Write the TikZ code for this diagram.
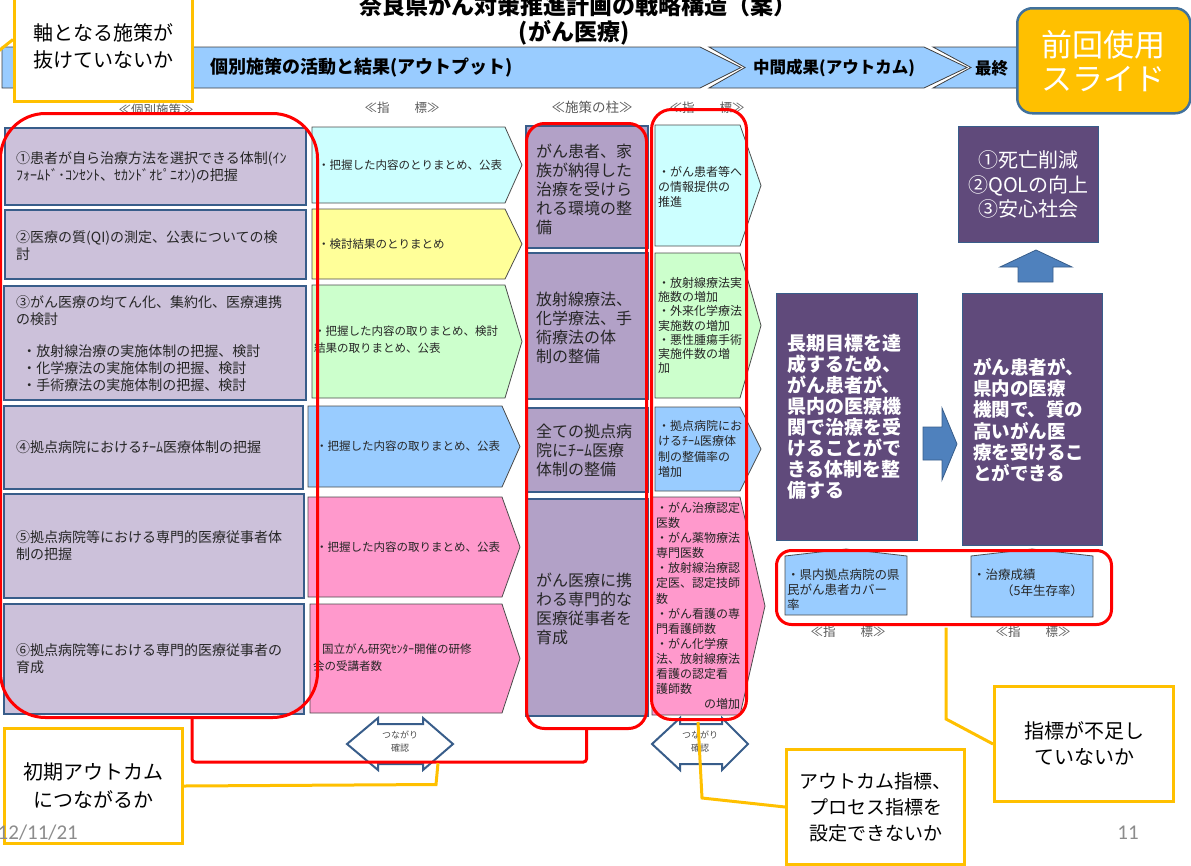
\documentclass[tikz,border=0pt]{standalone}
\usepackage{fontspec}
\setmainfont{Noto Sans CJK JP}
\newfontfamily\calfont{Carlito}
\usetikzlibrary{calc}
\definecolor{lav}{HTML}{CCC1DA}
\definecolor{bord}{HTML}{385D8A}
\definecolor{pil}{HTML}{B2A1C7}
\definecolor{icyan}{HTML}{CCFFFF}
\definecolor{iyel}{HTML}{FFFF99}
\definecolor{igrn}{HTML}{CCFFCC}
\definecolor{iblu}{HTML}{99CCFF}
\definecolor{ipnk}{HTML}{FF99CC}
\definecolor{dpur}{HTML}{604A7B}
\definecolor{abl}{HTML}{4F81BD}
\definecolor{orng}{HTML}{FFC000}
\definecolor{obord}{HTML}{41719C}
\definecolor{gtxt}{HTML}{595959}
\definecolor{barc}{HTML}{99CCFF}
\definecolor{redc}{HTML}{FF0000}
\newcommand\fs[2]{\fontsize{#1}{#2}\selectfont}
\newcommand\pent[7]{%
  \draw[pentst, fill=#2] (#3,#4) -- (#5,#4) -- (#7,{(#4+#6)/2}) -- (#5,#6) -- (#3,#6) -- cycle;
  \coordinate (#1) at (#3,{(#4+#6)/2});}
\tikzset{
  barst/.style={fill=barc, draw=black!75, line width=0.8pt},
  bartxt/.style={font=\bfseries\fs{18}{20}, inner sep=0pt, anchor=west},
  glab/.style={font=\fs{12.5}{14}, text=gtxt, inner sep=0pt},
  lbox/.style={draw=bord, line width=2.2pt, fill=lav, anchor=north west, inner sep=0pt},
  ltxt/.style={anchor=west, align=left, inner sep=0pt, font=\fs{14}{17}, text=black!85},
  pentst/.style={draw=black!70, line width=0.8pt},
  itxt/.style={anchor=west, align=left, inner sep=0pt, font=\fs{11.5}{17}, text=black!85},
  pbox/.style={draw=bord, line width=1.8pt, fill=pil, anchor=north west, inner sep=0pt},
  ptxt/.style={anchor=west, align=left, inner sep=0pt, font=\fs{16}{19}, text=black!85},
  jtxt/.style={anchor=west, align=left, inner sep=0pt, font=\fs{12}{15}, text=black!85},
  dbox/.style={draw=bord, line width=1pt, fill=dpur, anchor=north west, inner sep=0pt},
  dtxt/.style={anchor=west, align=left, inner sep=0pt, text=white, font=\bfseries\fs{19}{21}},
  barrow/.style={fill=abl, draw=bord, line width=0.8pt},
  darrow/.style={fill=white, draw=bord, line width=2pt, line join=miter},
  dtext/.style={font=\fs{9}{13}, text=black!70, align=center, inner sep=0pt},
  redr/.style={draw=redc, line width=3pt, anchor=north west, inner sep=0pt},
  redln/.style={draw=redc, line width=3pt, rounded corners=3pt},
  yln/.style={draw=orng, line width=3pt},
  callout/.style={draw=orng, line width=3pt, fill=white, align=center, inner sep=0pt, font=\fs{20}{27}},
}
\begin{document}
\begin{tikzpicture}[x=1pt,y=-1pt]
\useasboundingbox (0,0) rectangle (1191,865);
\clip (0,0) rectangle (1191,865);

% header bar
\draw[barst] (2,47) -- (700,47) -- (741,67.5) -- (700,88) -- (2,88) -- cycle;
\draw[barst] (709,47) -- (924,47) -- (967,67.5) -- (924,88) -- (709,88) -- (745,67.5) -- cycle;
\draw[barst] (933,47) -- (1196,47) -- (1196,88) -- (933,88) -- (971,67.5) -- cycle;
\node[bartxt] (bar1) at (210,68) {個別施策の活動と結果(アウトプット)};
\node[bartxt, font=\bfseries\fs{16.5}{20}] (bar2) at (753,68) {中間成果(アウトカム)};
\node[bartxt, font=\bfseries\fs{16.5}{20}] (bar3) at (975,68) {最終};

% title
\node[font=\bfseries\fs{23}{26}, inner sep=0pt] (title1) at (578,6) {奈良県がん対策推進計画の戦略構造（案）};
\node[font=\bfseries\fs{23}{26}, inner sep=0pt] (title2) at (574,33) {(がん医療)};

% column labels
\node[glab] (h1) at (156,110) {≪個別施策≫};
\node[glab] (h2) at (402,108) {≪指　　標≫};
\node[glab, font=\fs{13.5}{15}] (h3) at (592,107) {≪施策の柱≫};
\node[glab] (h4) at (707,108) {≪指　　標≫};
\node[glab] (h5) at (848,632) {≪指　　標≫};
\node[glab] (h6) at (1033,632) {≪指　　標≫};

% left column: individual measures
\node[lbox, minimum width=301pt, minimum height=77pt] (p1) at (4,127) {};
\node[lbox, minimum width=301pt, minimum height=69pt] (p2) at (4,209) {};
\node[lbox, minimum width=302pt, minimum height=114pt] (p3) at (3,285) {};
\node[lbox, minimum width=299pt, minimum height=83pt] (p4) at (3,405) {};
\node[lbox, minimum width=300pt, minimum height=104pt] (p5) at (3,493) {};
\node[lbox, minimum width=300pt, minimum height=110pt] (p6) at (3,603) {};
\node[ltxt] (p1t) at ($(p1.west)+(12,1)$) {①患者が自ら治療方法を選択できる体制(ｲﾝ\\ﾌｫｰﾑﾄﾞ･ｺﾝｾﾝﾄ、ｾｶﾝﾄﾞｵﾋﾟﾆｵﾝ)の把握};
\node[ltxt] (p2t) at ($(p2.west)+(12,1)$) {②医療の質(QI)の測定、公表についての検\\討};
\node[ltxt] (p3t) at ($(p3.west)+(13,1)$) {③がん医療の均てん化、集約化、医療連携\\の検討\\[15pt]\ \ ・放射線治療の実施体制の把握、検討\\\ \ ・化学療法の実施体制の把握、検討\\\ \ ・手術療法の実施体制の把握、検討};
\node[ltxt] (p4t) at ($(p4.west)+(13,0)$) {④拠点病院におけるﾁｰﾑ医療体制の把握};
\node[ltxt] (p5t) at ($(p5.west)+(13,0)$) {⑤拠点病院等における専門的医療従事者体\\制の把握};
\node[ltxt] (p6t) at ($(p6.west)+(13,0)$) {⑥拠点病院等における専門的医療従事者の\\育成};

% indicator column 1
\pent{i1}{icyan}{312}{127}{505}{203}{522}
\pent{i2}{iyel}{312}{209}{505}{279}{522}
\pent{i3}{igrn}{312}{285}{505}{398}{522}
\pent{i4}{iblu}{308}{406}{502}{487}{520}
\pent{i5}{ipnk}{308}{497}{502}{597}{520}
\pent{i6}{ipnk}{310}{604}{502}{713}{520}
\node[itxt] (i1t) at ($(i1)+(6,0)$) {・把握した内容のとりまとめ、公表};
\node[itxt] (i2t) at ($(i2)+(6,0)$) {・検討結果のとりまとめ};
\node[itxt] (i3t) at ($(i3)+(2,-2)$) {・把握した内容の取りまとめ、検討\\結果の取りまとめ、公表};
\node[itxt] (i4t) at ($(i4)+(8,0)$) {・把握した内容の取りまとめ、公表};
\node[itxt] (i5t) at ($(i5)+(8,0)$) {・把握した内容の取りまとめ、公表};
\node[itxt] (i6t) at ($(i6)+(3,-1)$) {\hspace*{9pt}国立がん研究ｾﾝﾀｰ開催の研修\\会の受講者数};

% pillar column
\node[pbox, minimum width=122pt, minimum height=122pt] (s1) at (525,125) {};
\node[pbox, minimum width=122pt, minimum height=146pt] (s2) at (525,252) {};
\node[pbox, minimum width=122pt, minimum height=84pt] (s3) at (525,407) {};
\node[pbox, minimum width=122pt, minimum height=217pt] (s4) at (525,498) {};
\node[ptxt] (s1t) at (536,189) {がん患者、家\\族が納得した\\治療を受けら\\れる環境の整\\備};
\node[ptxt] (s2t) at (536,328) {放射線療法、\\化学療法、手\\術療法の体\\制の整備};
\node[ptxt] (s3t) at (536,450) {全ての拠点病\\院にﾁｰﾑ医療\\体制の整備};
\node[ptxt] (s4t) at (536,609) {がん医療に携\\わる専門的な\\医療従事者を\\育成};

% indicator column 2
\pent{j1}{icyan}{655}{125}{740}{246}{761}
\pent{j2}{igrn}{655}{253}{740}{398}{761}
\pent{j3}{iblu}{655}{407}{740}{491}{761}
\pent{j4}{ipnk}{652}{497}{740}{715}{765}
\node[jtxt] (j1t) at ($(j1)+(3,1)$) {・がん患者等へ\\の情報提供の\\推進};
\node[jtxt, font=\fs{12}{14.3}] (j2t) at ($(j2)+(3,0)$) {・放射線療法実\\施数の増加\\・外来化学療法\\実施数の増加\\・悪性腫瘍手術\\実施件数の増\\加};
\node[jtxt, font=\fs{12}{15.5}] (j3t) at ($(j3)+(3,0)$) {・拠点病院にお\\けるﾁｰﾑ医療体\\制の整備率の\\増加};
\node[jtxt, font=\fs{12}{15.1}, text width=84pt] (j4t) at ($(j4)+(4,0)$) {・がん治療認定\\医数\\・がん薬物療法\\専門医数\\・放射線治療認\\定医、認定技師\\数\\・がん看護の専\\門看護師数\\・がん化学療\\法、放射線療法\\看護の認定看\\護師数\\\mbox{}\hfill の増加};

% outcome boxes
\node[dbox, minimum width=140pt, minimum height=116pt] (d1) at (958,126) {};
\node[dbox, minimum width=141pt, minimum height=247pt] (d2) at (776,293) {};
\node[dbox, minimum width=140pt, minimum height=252pt] (d3) at (962,293) {};
\node[text=white, align=center, inner sep=0pt, font=\fs{20}{24.5}] (d1t) at (d1.center) {①死亡削減\\②QOLの向上\\③安心社会};
\node[dtxt] (d2t) at (787,417) {長期目標を達\\成するため、\\がん患者が、\\県内の医療機\\関で治療を受\\けることがで\\きる体制を整\\備する};
\node[dtxt, font=\bfseries\fs{18.5}{21.3}] (d3t) at (973,420) {がん患者が、\\県内の医療\\機関で、質の\\高いがん医\\療を受けるこ\\とができる};

% block arrows
\draw[barrow] (1018,282) -- (1018,267) -- (1000,267) -- (1036,250) -- (1072,267) -- (1053,267) -- (1053,282) -- cycle;
\draw[barrow] (923,427) -- (942,427) -- (942,408) -- (957,444) -- (942,480) -- (942,460) -- (923,460) -- cycle;

% outcome indicators
\draw[pentst, fill=iblu] (785,556) -- (846,549) -- (907,556) -- (907,615) -- (785,615) -- cycle;
\draw[pentst, fill=iblu] (971,556) -- (1032,549) -- (1093,556) -- (1093,617) -- (971,617) -- cycle;
\node[jtxt, font=\fs{12.5}{15}] (k1t) at (787,590) {・県内拠点病院の県\\民がん患者カバー\\率};
\node[jtxt, font=\fs{12.5}{16}] (k2t) at (973,583) {・治療成績\\\hspace*{28pt}（5年生存率）};

% double arrows
\draw[darrow] (347,744) -- (378,718) -- (378,724) -- (423,724) -- (423,718) -- (453,744) -- (423,770) -- (423,764) -- (378,764) -- (378,770) -- cycle;
\draw[darrow] (652,744) -- (680,718) -- (680,724) -- (722,724) -- (722,718) -- (748,744) -- (722,770) -- (722,764) -- (680,764) -- (680,770) -- cycle;
\node[dtext] (a1t) at (400,742) {つながり\\確認};
\node[dtext] (a2t) at (700,742) {つながり\\確認};

% red highlight frames
\node[redr, rounded corners=45pt, minimum width=317pt, minimum height=604pt] (r1) at (-1,112) {};
\node[redr, rounded corners=18pt, minimum width=120pt, minimum height=605pt] (r2) at (525,122) {};
\node[redr, rounded corners=20pt, minimum width=95pt, minimum height=610pt] (r3) at (650,108) {};
\node[redr, rounded corners=15pt, minimum width=335pt, minimum height=74pt] (r4) at (775,549) {};
\draw[redln] (r1.south west) ++(193,0) -- ++(0,43) -| (r2.south);

% callouts
\node[callout, minimum width=178pt, minimum height=110pt, anchor=north west] (c1) at (13,-10) {軸となる施策が\\抜けていないか};
\node[callout, minimum width=178pt, minimum height=115pt, anchor=north west, font=\fs{20}{28}] (c2) at (3,727) {初期アウトカム\\につながるか};
\node[callout, minimum width=178pt, minimum height=115pt, anchor=north west, font=\fs{19}{26}] (c3) at (785,748) {アウトカム指標、\\プロセス指標を\\設定できないか};
\node[callout, minimum width=179pt, minimum height=115pt, anchor=north west, font=\fs{20}{26}] (c4) at (993,685) {指標が不足し\\ていないか};
\coordinate (y1e) at (-4,53);
\coordinate (y2e) at (438,763);
\coordinate (y3e) at (698,722);
\draw[yln] (c1.west) ++(0,-7) -- (y1e);
\draw[yln] (c2.east) -- (436,784.5) -- (y2e);
\draw[yln] (c3.west) -- (702,798) -- (y3e);
\draw[yln] (r4.south) ++(2,1.5) -- ++(0,91.5) -- (c4.west);

% previous slide tag
\node[draw=obord, line width=2.5pt, fill=orng, rounded corners=15pt, minimum width=173pt, minimum height=105pt, anchor=north west, inner sep=0pt, text=white, align=center, font=\fs{31}{34}] (tag) at (1016,7) {前回使用\\スライド};

% footer
\node[font=\calfont\fs{21}{24}, text=black!45, anchor=east, inner sep=0pt] (date) at (78,833) {12/11/21};
\node[font=\calfont\fs{21}{24}, text=black!45, inner sep=0pt] (page) at (1128,833) {11};
\end{tikzpicture}
\end{document}
